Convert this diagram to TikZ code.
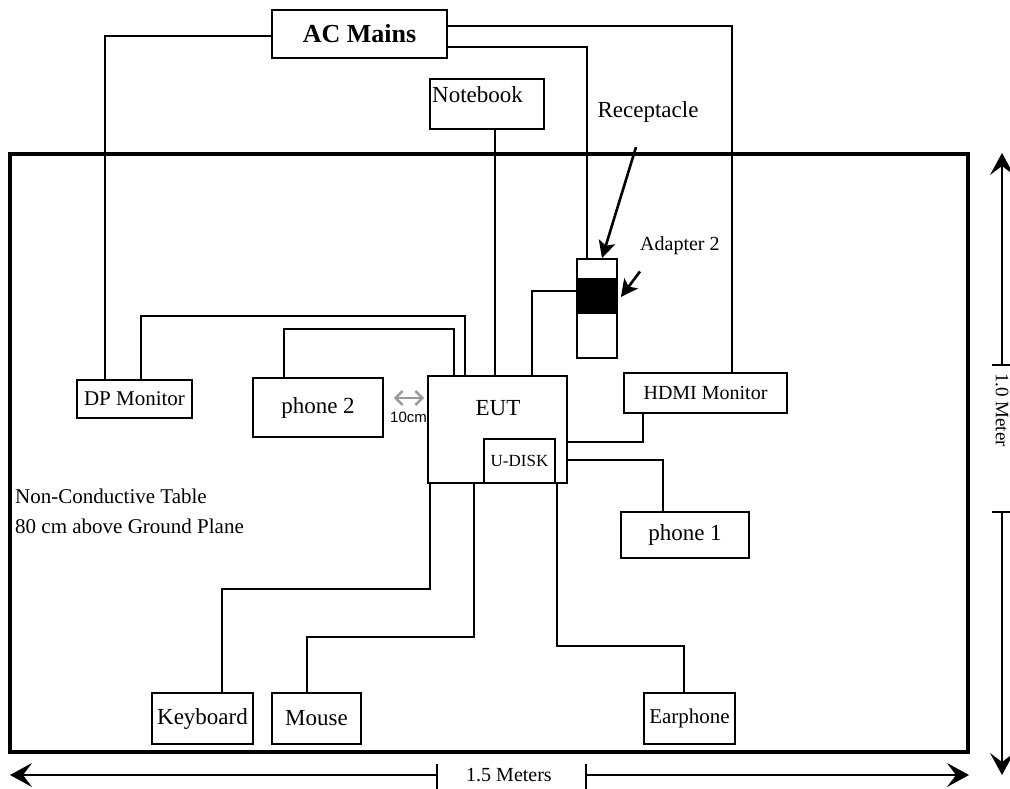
\documentclass[tikz,border=0pt]{standalone}
\usepackage{fontspec}
\setmainfont{Liberation Serif}
\newfontfamily\arialfont{Liberation Sans}
\usetikzlibrary{calc,arrows.meta}
\definecolor{GapGray}{HTML}{9A9A9A}
\newcommand{\pxfont}[1]{\fontsize{#1}{#1}\selectfont}
\tikzset{
  box/.style={draw,line width=1.8pt,inner sep=0pt},
  cable/.style={line width=1.8pt},
  dimline/.style={line width=1.5pt},
  bigtip/.style={-{Stealth[length=22pt,width=24pt,inset=9pt]}},
  pointer/.style={line width=2.6pt,-{Stealth[length=17pt,width=17pt,inset=4pt]}},
  plain/.style={inner sep=0pt}
}

\begin{document}
\begin{tikzpicture}[x=1pt,y=-1pt]
\useasboundingbox (0,0) rectangle (1010,789);
% table outline
\draw[line width=4pt] (10,154) rectangle (968,752);
% equipment
\node[box,minimum width=175pt,minimum height=48pt,font=\bfseries\pxfont{26}] (acmains) at (359.5,34) {AC Mains};
\node[box,minimum width=114pt,minimum height=50pt] (notebook) at (487,104) {};
\node[plain,anchor=base west,font=\pxfont{23}] (nbtext) at (432,103) {Notebook};
\node[box,minimum width=115pt,minimum height=38pt,font=\pxfont{21}] (dpmon) at (134.5,399) {DP Monitor};
\node[box,minimum width=130pt,minimum height=59pt,font=\pxfont{23}] (phonetwo) at (318,407.5) {phone 2};
\node[box,minimum width=139pt,minimum height=107pt] (eut) at (497.5,429.5) {};
\node[plain,font=\pxfont{23}] (euttext) at (498,408) {EUT};
\node[box,minimum width=71pt,minimum height=44pt,font=\pxfont{17}] (udisk) at (519.5,461) {U-DISK};
\node[box,minimum width=40pt,minimum height=99pt] (adapter) at (597,308.5) {};
\fill ([yshift=30.5pt]adapter.west) rectangle ([yshift=-5.5pt]adapter.east);
\node[box,minimum width=163pt,minimum height=40pt,font=\pxfont{20}] (hdmi) at (705.5,393) {HDMI Monitor};
\node[box,minimum width=128pt,minimum height=46pt,font=\pxfont{23}] (phoneone) at (685,535) {phone 1};
\node[box,minimum width=101pt,minimum height=51pt,font=\pxfont{23}] (keyboard) at (202.5,718.5) {Keyboard};
\node[box,minimum width=89pt,minimum height=51pt,font=\pxfont{23}] (mouse) at (316.5,718.5) {Mouse};
\node[box,minimum width=91pt,minimum height=51pt,font=\pxfont{21}] (earphone) at (689.5,718.5) {Earphone};
% labels
\node[plain,anchor=base,font=\pxfont{23}] (recep) at (648,118) {Receptacle};
\node[plain,anchor=base west,font=\pxfont{20}] (adaptxt) at (640,251) {Adapter 2};
\node[plain,anchor=base west,font=\pxfont{21}] (tablenote) at (15,503) {Non-Conductive Table};
\node[plain,anchor=base west,font=\pxfont{21}] (heightnote) at (15,533) {80 cm above Ground Plane};
\node[plain,anchor=base west,font=\arialfont\pxfont{15}] (gaptext) at (390,422) {10cm};
\node[font=\pxfont{20}] (widthtext) at (509,775) {1.5 Meters};
\node[font=\pxfont{19},rotate=-90] (depthtext) at (1002,410) {1.0 Meter};
% power cables
\draw[cable] ([yshift=-2pt]acmains.west) -| ([xshift=29pt]dpmon.north west);
\draw[cable] ([yshift=8pt]acmains.east) -| ([xshift=109pt]hdmi.north west);
\draw[cable] ([yshift=-13pt]acmains.east) -| ([xshift=11pt]adapter.north west);
% signal cables
\coordinate (nbport) at ([xshift=8pt]notebook.south);
\draw[cable] (nbport) -- (nbport |- eut.north);
\draw[cable] ([xshift=65pt]dpmon.north west) -- ++(0,-63) -| ([xshift=38pt]eut.north west);
\draw[cable] ([xshift=32pt]phonetwo.north west) -- ++(0,-48) -| ([xshift=27pt]eut.north west);
\draw[cable] ([xshift=105pt]eut.north west) |- ([yshift=17.5pt]adapter.west);
\draw[cable] ([xshift=20pt]hdmi.south west) |- ([yshift=-12.5pt]eut.east);
\draw[cable] ([yshift=-30.5pt]eut.east) -| ([xshift=43pt]phoneone.north west);
\draw[cable] ([xshift=3pt]eut.south west) -- ++(0,105) -| ([xshift=71pt]keyboard.north west);
\draw[cable] ([xshift=47pt]eut.south west) -- ++(0,153) -| ([xshift=36pt]mouse.north west);
\draw[cable] ([xshift=130pt]eut.south west) -- ++(0,162) -| ([xshift=41pt]earphone.north west);
% pointers
\draw[pointer] (recep.south) ++(-12,24) -- ([xshift=5pt]adapter.north);
\draw[pointer] (adaptxt.south west) ++(0,16) -- ([xshift=3pt,yshift=11.5pt]adapter.east);
\coordinate (gapL) at ([xshift=10pt,yshift=9.5pt]phonetwo.east);
\coordinate (gapR) at (gapL -| eut.west);
\draw[GapGray,line width=2.4pt,{Straight Barb[length=7pt,width=14pt]}-{Straight Barb[length=7pt,width=14pt]}] (gapL) -- ([xshift=-3pt]gapR);
% dimensions
\coordinate (wtickL) at (437,775);
\coordinate (wtickR) at (586,775);
\coordinate (wendL) at (10,775);
\coordinate (wendR) at (969,775);
\draw[dimline,bigtip] (wtickL) -- (wendL);
\draw[dimline,bigtip] (wtickR) -- (wendR);
\draw[dimline] ([yshift=11pt]wtickL) -- ([yshift=-14pt]wtickL);
\draw[dimline] ([yshift=11pt]wtickR) -- ([yshift=-14pt]wtickR);
\coordinate (dtickT) at (1002,365);
\coordinate (dtickB) at (1002,512);
\coordinate (dendT) at (1002,153);
\coordinate (dendB) at (1002,775);
\draw[dimline,bigtip] (dtickT) -- (dendT);
\draw[dimline,bigtip] (dtickB) -- (dendB);
\draw[dimline] ([xshift=-10pt]dtickT) -- ([xshift=10pt]dtickT);
\draw[dimline] ([xshift=-10pt]dtickB) -- ([xshift=10pt]dtickB);
\end{tikzpicture}
\end{document}
